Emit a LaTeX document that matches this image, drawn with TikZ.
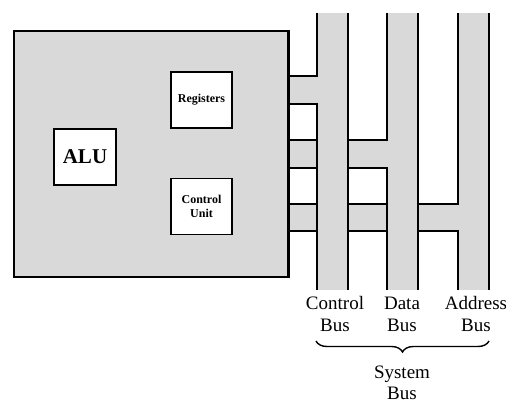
\documentclass[tikz,border=0pt]{standalone}
\usepackage{fontspec}
\setmainfont{Liberation Serif}
\usetikzlibrary{decorations.pathreplacing}
\tikzset{
  partbox/.style={draw,line width=1.5pt,fill=white,inner sep=0pt,
    minimum width=61pt,minimum height=56pt,align=center},
  busline/.style={line width=1.8pt},
  buslabel/.style={align=center,inner sep=0pt,
    font=\fontsize{19}{22}\selectfont},
}
\colorlet{busgray}{gray!30}
\begin{document}
\begin{tikzpicture}[x=1pt,y=-1pt]
    \useasboundingbox (0,0) rectangle (506,403);
    % processor
    \node[draw,line width=1.8pt,fill=busgray,minimum width=274pt,minimum height=246pt]
        (cpu) at (151,154) {};
    \node[partbox,minimum width=62pt,font=\bfseries\fontsize{21}{24}\selectfont]
        (alu) at (85,157) {ALU};
    \node[partbox,font=\bfseries\fontsize{12}{14}\selectfont]
        (regs) at (201.5,100) {Registers};
    \node[partbox,font=\bfseries\fontsize{12}{14}\selectfont]
        (cu) at (201.5,206.5) {Control\\Unit};
    % bus channels
    \foreach \x in {317,387,458}
        \fill[busgray] (\x,13) rectangle ++(31,277);
    \fill[busgray] (cpu.east |- 0,76) rectangle (317,104);
    \fill[busgray] (cpu.east |- 0,140) rectangle (387,168);
    \fill[busgray] (cpu.east |- 0,204) rectangle (458,231);
    \draw[busline] (cpu.north east) -- (cpu.south east);
    % control bus
    \draw[busline] (317,13) -- (317,76) -- (cpu.east |- 0,76);
    \draw[busline] (cpu.east |- 0,104) -- (317,104) -- (317,290);
    \draw[busline] (348,13) -- (348,290);
    % data bus
    \draw[busline] (cpu.east |- 0,140) -- (317,140) (348,140) -- (387,140) -- (387,13);
    \draw[busline] (cpu.east |- 0,168) -- (317,168) (348,168) -- (387,168) -- (387,290);
    \draw[busline] (418,13) -- (418,290);
    % address bus
    \draw[busline] (cpu.east |- 0,204) -- (317,204) (348,204) -- (387,204)
        (418,204) -- (458,204) -- (458,13);
    \draw[busline] (cpu.east |- 0,231) -- (317,231) (348,231) -- (387,231)
        (418,231) -- (458,231) -- (458,290);
    \draw[busline] (489,13) -- (489,290);
    % labels
    \node[buslabel] (cbus) at (335,314.5) {Control\\Bus};
    \node[buslabel] (dbus) at (402,314.5) {Data\\Bus};
    \node[buslabel] (abus) at (476,314.5) {Address\\Bus};
    \draw[line width=1.4pt,decorate,decoration={brace,mirror,amplitude=11pt}]
        (316,341) -- (489,341);
    \node[buslabel,font=\fontsize{19}{21}\selectfont] (sbus) at (402,382.5) {System\\Bus};
\end{tikzpicture}
\end{document}
